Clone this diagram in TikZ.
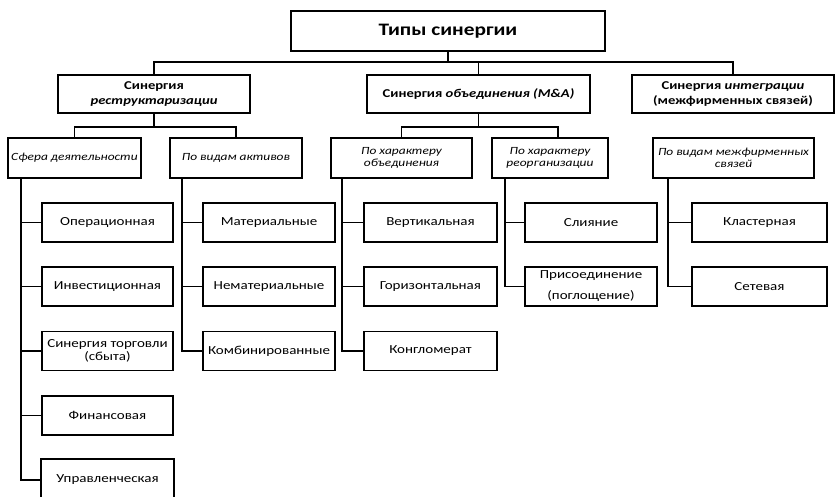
\documentclass[tikz,border=0pt]{standalone}
\usepackage{fontspec}
\setmainfont[FakeStretch=1.22]{Carlito}
\usetikzlibrary{calc}
\begin{document}
\begin{tikzpicture}[x=1pt,y=-1pt,
  box/.style={draw=black,line width=1.8pt,fill=white,inner sep=0pt,align=center},
  lvl0/.style={box,minimum width=314pt,minimum height=40pt,font=\fontsize{17.5}{19}\selectfont\bfseries},
  lvl1/.style={box,minimum height=38pt,font=\fontsize{12}{15}\selectfont\bfseries},
  lvl2/.style={box,minimum height=40pt,font=\fontsize{11}{11.5}\selectfont\itshape},
  lvl3/.style={box,minimum height=39pt,font=\fontsize{12.3}{13}\selectfont},
  conn/.style={line width=1.8pt,line cap=rect}]
\useasboundingbox (0,0) rectangle (835,497);
\fill[white] (0,0) rectangle (835,497);
% top
\node[lvl0] (top) at (448,31) {Типы синергии};
% level 1
\node[lvl1,minimum width=192pt] (A) at (154,94) {Синергия\\\textit{реструктаризации}};
\node[lvl1,minimum width=223pt] (B) at (478.5,94) {Синергия \textit{объединения (M\&A)}};
\node[lvl1,minimum width=202pt] (C) at (733,94) {Синергия \textit{интеграции}\\(межфирменных связей)};
% level 2
\node[lvl2,minimum width=133pt] (A1) at (74.5,158) {Сфера деятельности};
\node[lvl2,minimum width=132pt] (A2) at (236,158) {По видам активов};
\node[lvl2,minimum width=141pt] (B1) at (401.5,158) {По характеру\\объединения};
\node[lvl2,minimum width=116pt] (B2) at (550,158) {По характеру\\реорганизации};
\node[lvl2,minimum width=161pt] (C1) at (733.5,158) {По видам межфирменных\\связей};
% level 3
\node[lvl3,minimum width=131pt] (a1) at (107.5,222.5) {Операционная};
\node[lvl3,minimum width=131pt] (a2) at (107.5,286.5) {Инвестиционная};
\node[lvl3,minimum width=131pt] (a3) at (107.5,351) {Синергия торговли\\(сбыта)};
\node[lvl3,minimum width=131pt] (a4) at (107.5,415.5) {Финансовая};
\node[lvl3,minimum width=131pt,minimum height=40pt,draw=none] (a5) at (107.5,480) {Управленческая};
\draw[line width=1.8pt] (a5.south west) -- (a5.north west) -- (a5.north east) -- (a5.south east);
\node[lvl3,minimum width=132pt] (b1) at (269,222.5) {Материальные};
\node[lvl3,minimum width=132pt] (b2) at (269,286.5) {Нематериальные};
\node[lvl3,minimum width=132pt] (b3) at (269,351) {Комбинированные};
\node[lvl3,minimum width=133pt] (c1) at (430.5,222.5) {Вертикальная};
\node[lvl3,minimum width=133pt] (c2) at (430.5,286.5) {Горизонтальная};
\node[lvl3,minimum width=133pt] (c3) at (430.5,351) {Конгломерат};
\node[lvl3,minimum width=132pt] (d1) at (591,222.5) {Слияние};
\node[lvl3,minimum width=132pt,font=\fontsize{12.3}{21}\selectfont] (d2) at (591,286.5) {Присоединение\\(поглощение)};
\node[lvl3,minimum width=135pt] (e1) at (759.5,222.5) {Кластерная};
\node[lvl3,minimum width=135pt] (e2) at (759.5,286.5) {Сетевая};
% connectors top
\coordinate (h0) at (448,62);
\draw[conn] (top.south) -- (h0);
\draw[conn] (A.north) |- (C.north |- h0) -- (C.north);
\draw[conn] (B.north) -- (B.north |- h0);
% level1 -> level2
\coordinate (h1) at (0,127);
\draw[conn] (A.south) -- (A.south |- h1);
\draw[conn] (A1.north) |- (A2.north |- h1) -- (A2.north);
\coordinate (b2top) at ($(B2.north)+(8,0)$);
\draw[conn] (B.south) -- (B.south |- h1);
\draw[conn] (B1.north) |- (b2top |- h1) -- (b2top);
% trunks
\coordinate (tA1) at ($(A1.south west)+(14,0)$);
\coordinate (tA2) at ($(A2.south west)+(13,0)$);
\coordinate (tB1) at ($(B1.south west)+(12,0)$);
\coordinate (tB2) at ($(B2.south west)+(14,0)$);
\coordinate (tC1) at ($(C1.south west)+(16,0)$);
\foreach \n in {a1,a2,a3,a4,a5} \draw[conn] (tA1) |- (\n.west);
\foreach \n in {b1,b2,b3} \draw[conn] (tA2) |- (\n.west);
\foreach \n in {c1,c2,c3} \draw[conn] (tB1) |- (\n.west);
\foreach \n in {d1,d2} \draw[conn] (tB2) |- (\n.west);
\foreach \n in {e1,e2} \draw[conn] (tC1) |- (\n.west);
\end{tikzpicture}
\end{document}
